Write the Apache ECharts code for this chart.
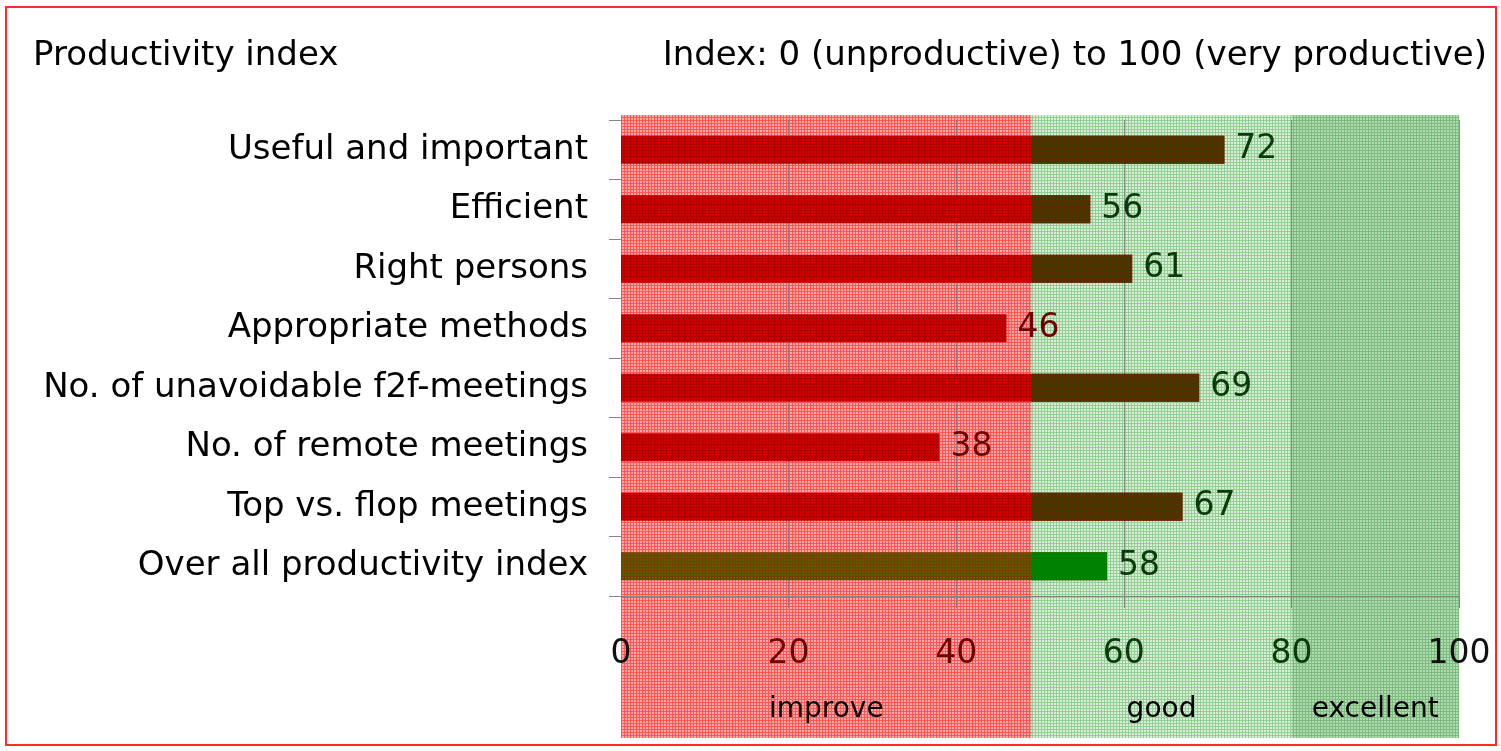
<!DOCTYPE html>
<html>
<head>
<meta charset="utf-8">
<script src="https://cdn.jsdelivr.net/npm/echarts@6/dist/echarts.min.js"></script>
<style>
html,body{margin:0;padding:0;background:#fff}
#chart{width:1501px;height:751px}
</style>
</head>
<body>
<div id="chart"></div>
<script>
// data
let categories = [
    'Useful and important',
    'Efficient',
    'Right persons',
    'Appropriate methods',
    'No. of unavoidable f2f-meetings',
    'No. of remote meetings',
    'Top vs. flop meetings',
    'Over all productivity index'
];
let values = [72, 56, 61, 46, 69, 38, 67, 58];
let totalName = 'Over all productivity index';
let zoneNames = ['improve', 'good', 'excellent'];
let zoneEdges = [0, 49, 80, 100];

let font = 'DejaVu Sans';
let cut = zoneEdges[1];

//小方格纹理
function hatch(bg, line) {
    let c = document.createElement('canvas');
    c.width = 3;
    c.height = 3;
    let g = c.getContext('2d');
    g.fillStyle = bg;
    g.fillRect(0, 0, 3, 3);
    g.fillStyle = line;
    g.fillRect(0, 0, 3, 1);
    g.fillRect(0, 0, 1, 3);
    return {image: c, repeat: 'repeat'};
}

let zoneFill = [
    hatch('#ffaaaa', '#ff5656'),
    hatch('#d8eed8', '#94ce94'),
    hatch('#b2dab2', '#7cbc7c')
];
let barRed = hatch('#d00000', '#b00000');
let barDark = hatch('#5a2a00', '#463800');
let barOlive = hatch('#5e5a00', '#744000');
let darkRed = '#6e0000';
let darkGreen = '#0b3b0b';

let mainData = values.map(function (v, i) {
    let isTotal = categories[i] === totalName;
    return {
        value: v,
        itemStyle: {color: isTotal ? barOlive : barRed},
        label: {color: v < cut ? darkRed : darkGreen}
    };
});
let baseData = values.map(function (v) {
    return v > cut ? cut : '-';
});
let aboveData = values.map(function (v, i) {
    if (v <= cut) return '-';
    return {
        value: v - cut,
        itemStyle: {color: categories[i] === totalName ? '#008000' : barDark}
    };
});

let zoneAreas = zoneNames.map(function (n, i) {
    return [
        {name: n, xAxis: zoneEdges[i], itemStyle: {color: zoneFill[i]}},
        {xAxis: zoneEdges[i + 1]}
    ];
});

let chart = echarts.init(document.getElementById('chart'), null, {renderer: 'canvas'});
let option = {
    animation: false,
    backgroundColor: '#fff',
    title: [{
        text: 'Productivity index',
        left: 28,
        top: 34,
        textStyle: {fontFamily: font, fontSize: 34, fontWeight: 'normal', color: '#000'}
    }, {
        text: 'Index: 0 (unproductive) to 100 (very productive)',
        right: 9,
        top: 34,
        textStyle: {fontFamily: font, fontSize: 34, fontWeight: 'normal', color: '#000'}
    }],
    graphic: [{
        type: 'rect',
        shape: {x: 6, y: 7, width: 1490, height: 738},
        style: {fill: 'none', stroke: '#ff2a2a', lineWidth: 2},
        z: 10
    }],
    grid: [
        {left: 621, right: 42, top: 120, bottom: 155, outerBoundsMode: 'none'},
        {left: 621, right: 42, top: 115, bottom: 13, outerBoundsMode: 'none'}
    ],
    xAxis: [{
        type: 'value',
        gridIndex: 0,
        min: 0,
        max: 100,
        interval: 20,
        z: 1,
        axisLine: {show: true, lineStyle: {color: '#858585', width: 1}},
        axisTick: {show: true, inside: false, length: 12, lineStyle: {color: '#858585'}},
        splitLine: {show: true, lineStyle: {color: '#7a7a7a', width: 1, opacity: 0.8}},
        axisLabel: {
            margin: 42,
            fontFamily: font,
            fontSize: 33,
            color: function (v) {
                v = Number(v);
                if (v === 0 || v === 100) return '#111';
                return v < cut ? darkRed : darkGreen;
            }
        }
    }, {
        type: 'value',
        gridIndex: 1,
        min: 0,
        max: 100,
        show: false
    }],
    yAxis: [{
        type: 'category',
        gridIndex: 0,
        data: categories,
        inverse: true,
        z: 1,
        axisLine: {show: true, lineStyle: {color: '#858585', width: 1}},
        axisTick: {show: true, inside: false, length: 12, lineStyle: {color: '#858585'}},
        axisLabel: {margin: 33, fontFamily: font, fontSize: 34, color: '#000'},
        splitLine: {show: false}
    }, {
        type: 'value',
        gridIndex: 1,
        min: 0,
        max: 1,
        show: false
    }],
    series: [{
        name: 'zones',
        type: 'line',
        xAxisIndex: 1,
        yAxisIndex: 1,
        data: [],
        z: 0,
        silent: true,
        markArea: {
            silent: true,
            z: 0,
            label: {
                show: true,
                position: 'insideBottom',
                distance: 14,
                fontFamily: font,
                fontSize: 28,
                color: '#000'
            },
            data: zoneAreas
        }
    }, {
        name: 'Index',
        type: 'bar',
        data: mainData,
        barWidth: 28,
        barGap: '-100%',
        z: 2,
        label: {
            show: true,
            position: 'right',
            distance: 11,
            fontFamily: font,
            fontSize: 33
        }
    }, {
        name: 'base',
        type: 'bar',
        stack: 'hi',
        data: baseData,
        barWidth: 28,
        barGap: '-100%',
        z: 3,
        itemStyle: {color: 'rgba(0,0,0,0)'}
    }, {
        name: 'above',
        type: 'bar',
        stack: 'hi',
        data: aboveData,
        barWidth: 28,
        barGap: '-100%',
        z: 3
    }]
};
chart.setOption(option);
</script>
</body>
</html>
